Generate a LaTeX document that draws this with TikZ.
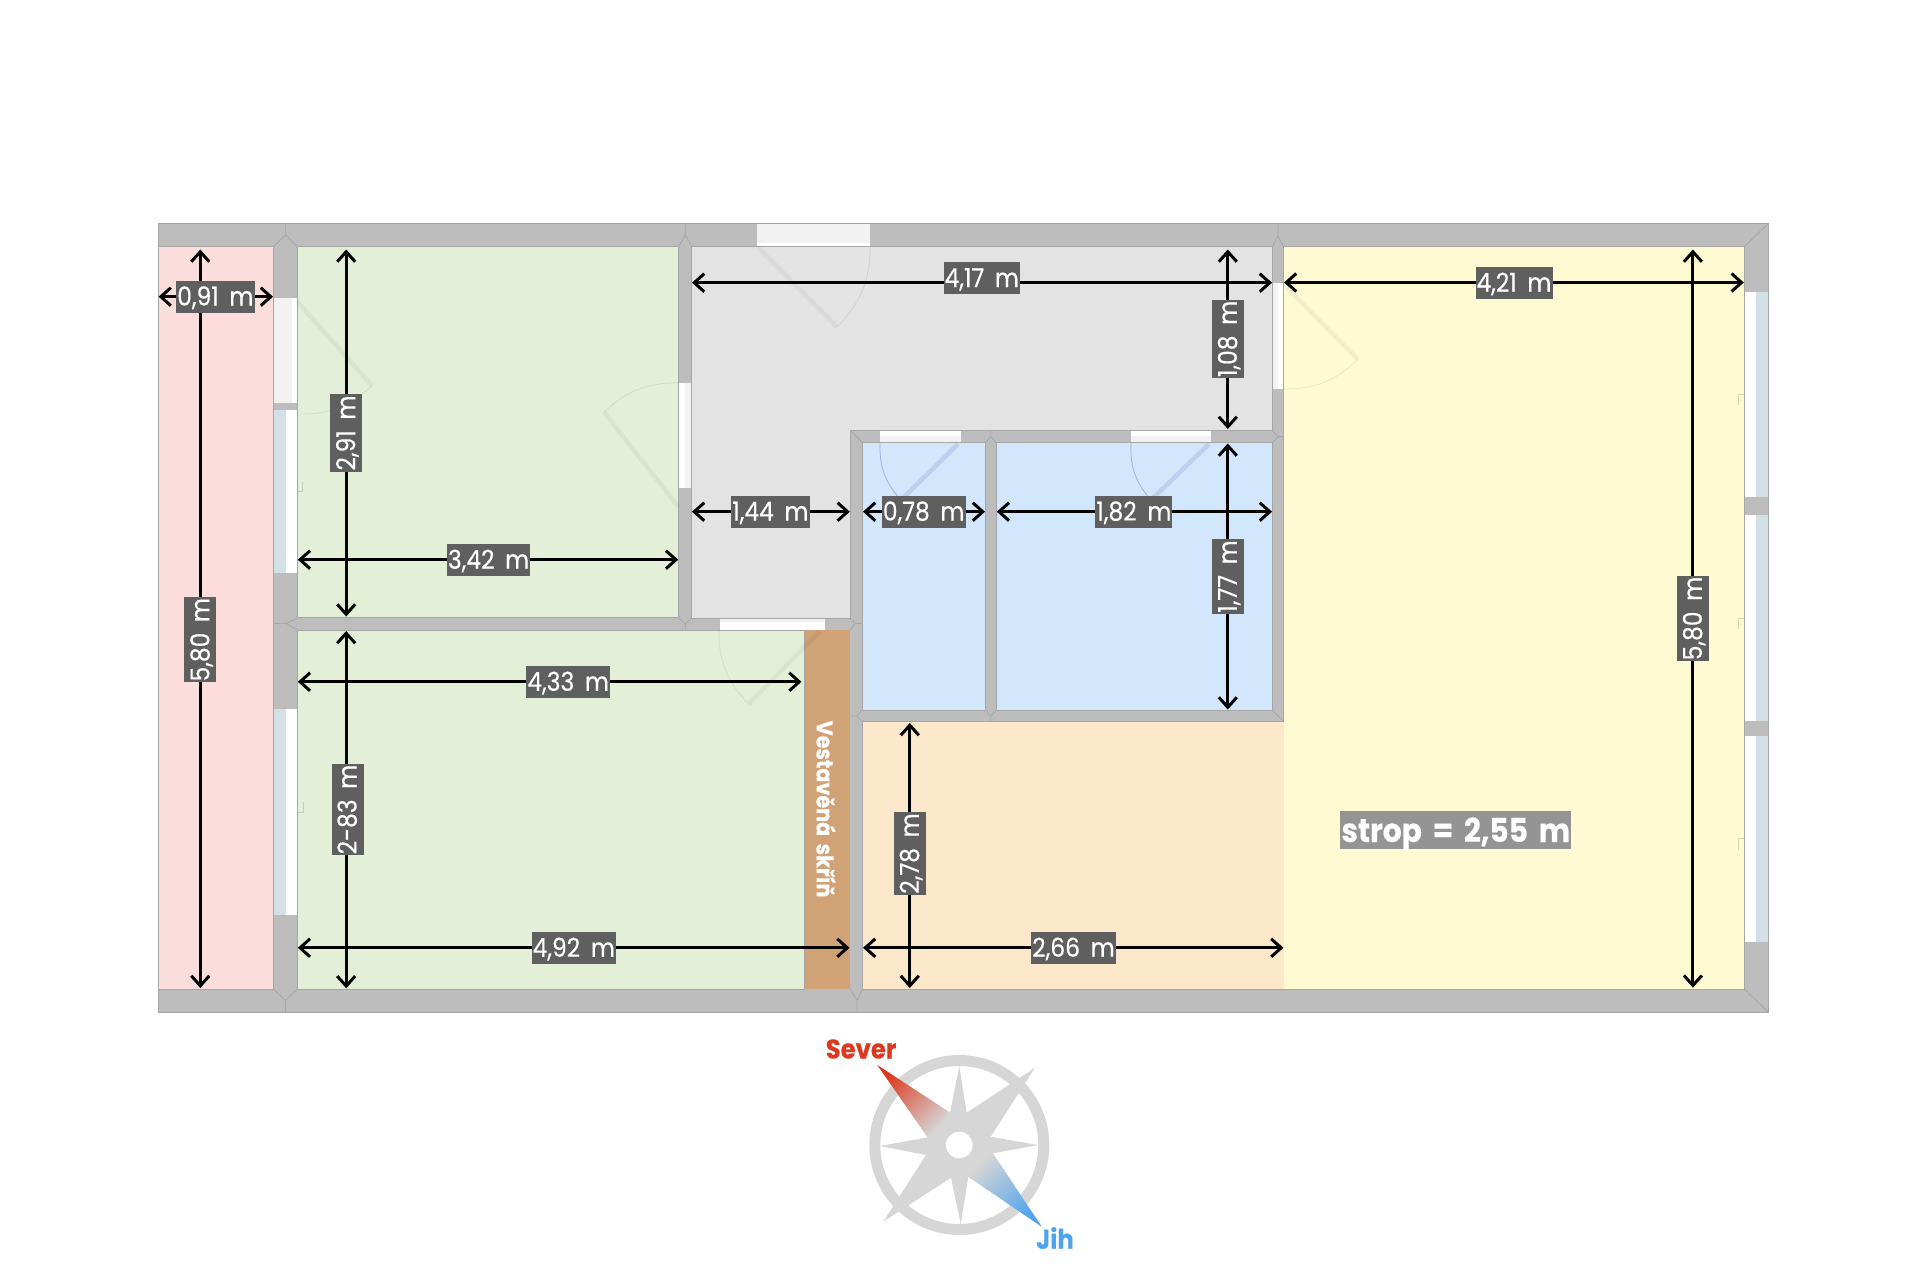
\documentclass[tikz,border=0pt]{standalone}
\usepackage{fontspec}
\newfontfamily\planfont[FakeStretch=.9,FakeBold=.35,WordSpace=1.7]{Poppins}
\usetikzlibrary{arrows.meta}
\definecolor{wallgray}{HTML}{BDBDBD}
\definecolor{edgegray}{HTML}{A6A6A6}
\definecolor{roomred}{HTML}{FBDDDB}
\definecolor{roomgreen}{HTML}{E3EFD6}
\definecolor{roomgray}{HTML}{E3E3E3}
\definecolor{roomblue}{HTML}{D2E7FB}
\definecolor{roomyellow}{HTML}{FEFAD2}
\definecolor{roompeach}{HTML}{FBE8CB}
\definecolor{closetbrown}{HTML}{D1A276}
\definecolor{glassblue}{HTML}{D3E0E8}
\definecolor{doorgray}{HTML}{F2F2F2}
\definecolor{labelgray}{HTML}{5F5F5F}
\definecolor{compassgray}{HTML}{D6D6D6}
\definecolor{northred}{HTML}{DC3A20}
\definecolor{southblue}{HTML}{4DA3EE}
\tikzset{
    >={Straight Barb[length=10pt,width=18pt]},
    every node/.style={
        font=\planfont\fontsize{26}{26}\selectfont,
        text=white,
        inner sep=0pt
    },
    room/.style={
        draw=edgegray,
        line width=.9pt
    },
    wall/.style={
        fill=wallgray,
        draw=edgegray,
        line width=1.2pt
    },
    miter/.style={
        draw=edgegray,
        line width=.8pt
    },
    opening/.style={
        fill=doorgray
    },
    clearstrip/.style={
        fill=white
    },
    glass/.style={
        fill=glassblue
    },
    leaf/.style={
        draw=black,
        opacity=.045,
        line width=4.5pt
    },
    swing/.style={
        draw=black,
        opacity=.07,
        line width=.9pt
    },
    bathleaf/.style={
        draw=black!30!blue!50!gray,
        opacity=.14,
        line width=4.5pt
    },
    bathswing/.style={
        draw=black!30!blue!50!gray,
        opacity=.3,
        line width=.9pt
    },
    hook/.style={
        draw=black,
        opacity=.14,
        line width=.8pt
    },
    dimline/.style={
        <->,
        draw=black,
        line width=3pt
    },
    dimlabel/.style={
        fill=labelgray,
        minimum height=32pt,
        text height=18pt,
        text depth=0pt,
        inner xsep=1pt
    },
    upright/.style={
        dimlabel,
        rotate=90
    }
}
\begin{document}
\begin{tikzpicture}[x=1pt,y=-1pt]
	\useasboundingbox (0,0) rectangle (1920,1280);

	\fill [wall] (158.6,223.3) rectangle (1768.6,1012.3);

	\fill [roomred, room] (158.6,246.7) rectangle (273.3,989);
	\fill [roomgreen, room] (297.5,246.7) rectangle (678.6,617.7);
	\fill [roomgreen, room] (297.5,630) rectangle (804.6,989);
	\fill [closetbrown] (804.6,630) rectangle (850.4,989);
	\fill [roomgray, room] (691.8,246.7) -- (1272.2,246.7) -- (1272.2,430.4) -- (850.3,430.4) -- (850.3,618.4) -- (691.8,618.4) -- cycle;
	\fill [roomblue, room] (862.5,442.8) rectangle (985.3,710.3);
	\fill [roomblue, room] (996.3,442.8) rectangle (1272.2,710.3);
	\fill [roompeach] (862.6,721.4) rectangle (1283.6,989);
	\fill [roomyellow] (1283.6,246.7) rectangle (1744.2,989);
	\draw [room] (862.6,989) -- (862.6,721.4) -- (1283.6,721.4) -- (1283.6,246.7) -- (1744.2,246.7) -- (1744.2,989) -- cycle;

	\draw [miter] (285.7,223.3) -- (285.7,235) -- (273.3,246.7) (285.7,235) -- (297.5,246.7);
	\draw [miter] (685.3,223.3) -- (685.3,235) -- (678.6,246.7) (685.3,235) -- (691.8,246.7);
	\draw [miter] (1278,223.3) -- (1278,236) -- (1272.2,246.7) (1278,236) -- (1283.6,246.7);
	\draw [miter] (273.3,623.5) -- (286.4,623.5) -- (297.5,617.7) (286.4,623.5) -- (297.5,630);
	\draw [miter] (678.6,617.7) -- (685.2,624) -- (691.8,617.7) (685.2,624) -- (685.2,630);
	\draw [miter] (850.3,618.4) -- (855.5,623.5) -- (850.3,630) (855.5,623.5) -- (862.5,623.5);
	\draw [miter] (850.3,430.4) -- (862.5,442.8);
	\draw [miter] (985.3,442.8) -- (990.8,436.6) -- (996.3,442.8) (990.8,436.6) -- (990.8,430.4);
	\draw [miter] (1272.2,430.4) -- (1278,436.6) -- (1272.2,442.8) (1278,436.6) -- (1283.6,436.6);
	\draw [miter] (862.5,710.3) -- (856.5,716) -- (862.5,721.4) (856.5,716) -- (850.3,716);
	\draw [miter] (985.3,710.3) -- (990.8,716) -- (996.3,710.3) (990.8,716) -- (990.8,721.4);
	\draw [miter] (1272.2,710.3) -- (1283.6,721.4);
	\draw [miter] (1744.2,246.7) -- (1768.6,223.3);
	\draw [miter] (1744.2,989) -- (1768.6,1012.3);
	\draw [miter] (273.3,989) -- (285.5,1000.5) -- (297.5,989) (285.5,1000.5) -- (285.5,1012.3);
	\draw [miter] (850.4,989) -- (857,1000.5) -- (862.6,989) (857,1000.5) -- (857,1012.3);

	\fill [opening] (756.7,223.8) rectangle (870.2,243);
	\fill [clearstrip] (756.7,243) rectangle (870.2,246.3);
	\fill [opening] (273.7,298.3) rectangle (291.7,402.7);
	\fill [clearstrip] (291.7,298.3) rectangle (297.1,402.7);
	\fill [clearstrip] (679,382.9) rectangle (685,488);
	\fill [opening] (685,382.9) rectangle (691.4,488);
	\fill [opening] (1272.6,282.5) rectangle (1277.5,389);
	\fill [clearstrip] (1277.5,282.5) rectangle (1283.2,389);
	\fill [clearstrip] (880,430.8) rectangle (960.8,436);
	\fill [opening] (880,436) rectangle (960.8,442.4);
	\fill [clearstrip] (1131,430.8) rectangle (1211,436);
	\fill [opening] (1131,436) rectangle (1211,442.4);
	\fill [opening] (719.6,618.8) rectangle (825,621.5);
	\fill [clearstrip] (719.6,621.5) rectangle (825,629.6);

	\fill [glass] (273.7,410) rectangle (285.7,572.7);
	\fill [clearstrip] (285.7,410) rectangle (297.1,572.7);
	\fill [glass] (273.7,709.3) rectangle (285.7,915);
	\fill [clearstrip] (285.7,709.3) rectangle (297.1,915);
	\fill [clearstrip] (1744.6,291.7) rectangle (1756.2,497.3);
	\fill [glass] (1756.2,291.7) rectangle (1768.2,497.3);
	\fill [clearstrip] (1744.6,515) rectangle (1756.2,721);
	\fill [glass] (1756.2,515) rectangle (1768.2,721);
	\fill [clearstrip] (1744.6,736) rectangle (1756.2,941.7);
	\fill [glass] (1756.2,736) rectangle (1768.2,941.7);

	\draw [leaf] (297.5,302) -- (372,385.7);
	\draw [swing] (372,385.7) to [bend left=22] (297.5,414);
	\draw [leaf] (678.6,507) -- (604,412.3);
	\draw [swing] (604,412.3) to [bend left=22] (678.6,382.9);
	\draw [leaf] (757.5,247) -- (837,327);
	\draw [swing] (837,327) to [bend right=22] (870.2,246.7);
	\draw [leaf] (1284,285) -- (1358,359.3);
	\draw [swing] (1358,359.3) to [bend left=22] (1283.6,389);
	\draw [leaf] (820,631) -- (748.6,704);
	\draw [swing] (748.6,704) to [bend left=22] (718.8,630);
	\draw [bathleaf] (958,444) -- (901,500);
	\draw [bathswing] (901,500) to [bend left=22] (880,442.8);
	\draw [bathleaf] (1209,444) -- (1151,500);
	\draw [bathswing] (1151,500) to [bend left=22] (1131,442.8);

	\draw [hook] (297.5,491.5) -- (302.5,491.5) -- (302.5,481.5);
	\draw [hook] (297.5,812) -- (303,812) -- (303,801.5);
	\draw [hook] (1744.2,394) -- (1738.7,394) -- (1738.7,405);
	\draw [hook] (1744.2,618) -- (1738.7,618) -- (1738.7,629);
	\draw [hook] (1744.2,838.5) -- (1738.7,838.5) -- (1738.7,849.5);

	\draw [dimline] (200.3,249.5) -- (200.3,988);
	\draw [dimline] (158.6,296.7) -- (273,296.7);
	\draw [dimline] (346.2,249.5) -- (346.2,616.5);
	\draw [dimline] (297.8,559.7) -- (678.2,559.7);
	\draw [dimline] (346.2,631) -- (346.2,988.3);
	\draw [dimline] (297.8,681.8) -- (801.5,681.8);
	\draw [dimline] (297.8,947.8) -- (849.5,947.8);
	\draw [dimline] (692,282.7) -- (1272,282.7);
	\draw [dimline] (1227.8,249.5) -- (1227.8,429);
	\draw [dimline] (692,511.7) -- (849.8,511.7);
	\draw [dimline] (863,511.7) -- (985,511.7);
	\draw [dimline] (996.8,511.7) -- (1272,511.7);
	\draw [dimline] (1227.8,443.5) -- (1227.8,709.5);
	\draw [dimline] (1284,282.5) -- (1743.8,282.5);
	\draw [dimline] (1692.9,249.5) -- (1692.9,987.7);
	\draw [dimline] (909.8,723) -- (909.8,988);
	\draw [dimline] (863,947.8) -- (1283.4,947.8);

	\node (widthhall) at (215.4,296.5) [dimlabel] {0,91 m};
	\node (heighthall) at (200.4,639.7) [upright] {5,80 m};
	\node (heightroomup) at (346.2,433) [upright] {2,91 m};
	\node (widthroomup) at (488.6,559.7) [dimlabel] {3,42 m};
	\node (widthroomdown) at (568.2,681.8) [dimlabel] {4,33 m};
	\node (heightroomdown) at (347.5,809.5) [upright] {2-83 m};
	\node (widthfull) at (573.8,947.8) [dimlabel] {4,92 m};
	\node (widthlobby) at (981.8,278) [dimlabel] {4,17 m};
	\node (heightlobby) at (1227.9,338.9) [upright] {1,08 m};
	\node (widthneck) at (770.4,511.5) [dimlabel] {1,44 m};
	\node (widthwc) at (923.7,511.5) [dimlabel] {0,78 m};
	\node (widthbath) at (1133.9,511.5) [dimlabel] {1,82 m};
	\node (heightbath) at (1227.9,576.5) [upright] {1,77 m};
	\node (widthliving) at (1514,282.7) [dimlabel] {4,21 m};
	\node (heightliving) at (1692.9,618.5) [upright] {5,80 m};
	\node (heightkitchen) at (909.8,853.5) [upright] {2,78 m};
	\node (widthkitchen) at (1073.5,947.7) [dimlabel] {2,66 m};

	\node (closet) at (826,809) [rotate=-90, font=\planfont\bfseries\fontsize{23}{23}\selectfont] {Vestavěná skříň};
	\node (ceiling) at (1455.8,830) [fill=black!42, minimum height=38pt, text height=24pt, text depth=0pt, inner xsep=1pt, font=\planfont\bfseries\fontsize{33}{33}\selectfont] {strop = 2,55 m};

	\draw [compassgray, line width=11pt] (959.3,1145) circle (84.5pt);
	\fill [compassgray] (959.3,1066) -- (966.7,1112.7) -- (1035,1067.7) -- (990.7,1136.7) -- (1038,1145) -- (992.7,1153.3) -- (1041.7,1226.7) -- (968.3,1176.7) -- (960.7,1224) -- (951,1177.7) -- (883.3,1221.7) -- (926,1155) -- (880,1146) -- (927.7,1137.3) -- (877.3,1065) -- (950,1112.7) -- cycle;
	\shade [top color=northred, bottom color=compassgray, shading angle=45] (877.3,1065) -- (950,1112.7) -- (927.7,1137.3) -- cycle;
	\shade [top color=compassgray, bottom color=southblue, shading angle=45] (1041.7,1226.7) -- (968.3,1176.7) -- (992.7,1153.3) -- cycle;
	\fill [white] (959.3,1145) circle (13.3pt);
	\node (north) at (861,1049) [text=northred, font=\planfont\bfseries\fontsize{27}{27}\selectfont] {Sever};
	\node (south) at (1055,1238) [text=southblue, font=\planfont\bfseries\fontsize{27}{27}\selectfont] {Jih};
\end{tikzpicture}
\end{document}
